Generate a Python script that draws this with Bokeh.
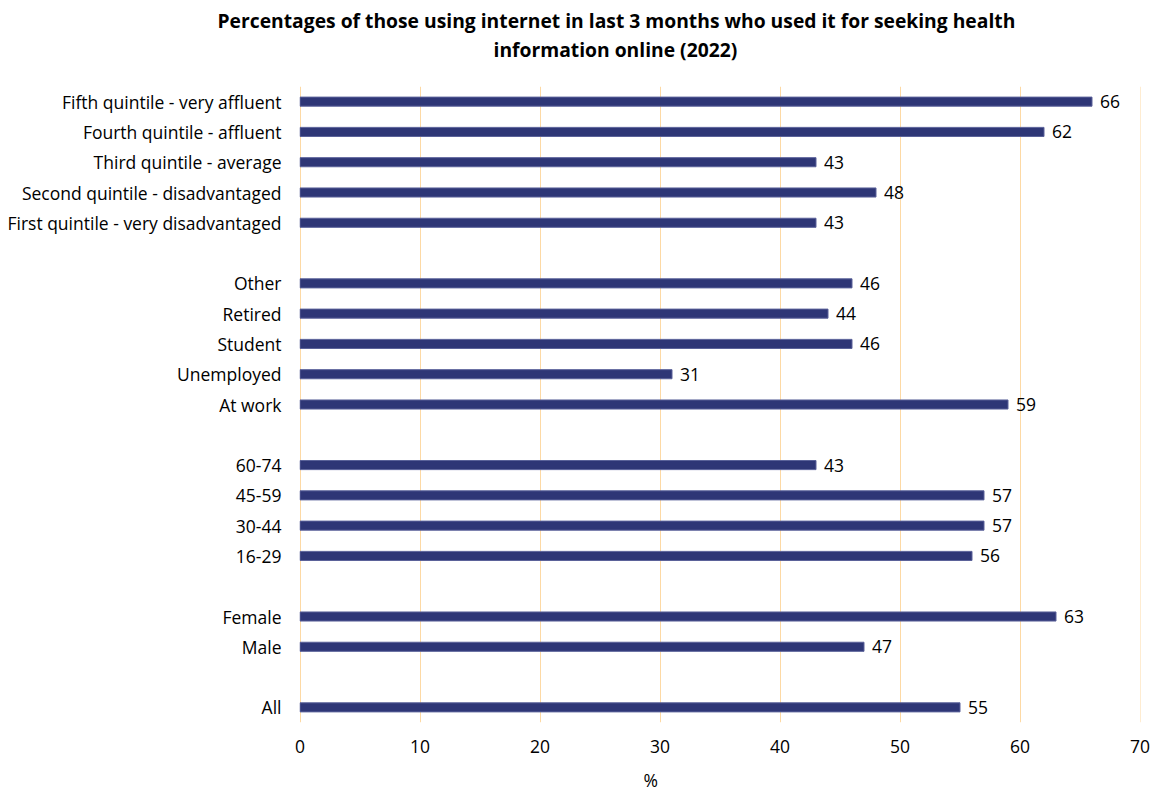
from bokeh.plotting import figure
from bokeh.models import ColumnDataSource, FactorRange, Range1d, Title, FixedTicker
from bokeh.core.properties import value
from bokeh.embed import file_html
from bokeh.resources import INLINE

# Data (top-to-bottom within each group as shown in the chart)
quintile_labels = ["Fifth quintile - very affluent", "Fourth quintile - affluent", "Third quintile - average",
                   "Second quintile - disadvantaged", "First quintile - very disadvantaged"]
quintile_values = [66, 62, 43, 48, 43]
status_labels = ["Other", "Retired", "Student", "Unemployed", "At work"]
status_values = [46, 44, 46, 31, 59]
age_labels = ["60-74", "45-59", "30-44", "16-29"]
age_values = [43, 57, 57, 56]
sex_labels = ["Female", "Male"]
sex_values = [63, 47]
all_labels = ["All"]
all_values = [55]
x_ticks = [0, 10, 20, 30, 40, 50, 60, 70]

groups = [(quintile_labels, quintile_values), (status_labels, status_values),
          (age_labels, age_values), (sex_labels, sex_values), (all_labels, all_values)]

factors_top_down = []
cats, vals = [], []
for gi, (labs, vs) in enumerate(groups):
    if gi > 0:
        factors_top_down.append(" " * gi)
    factors_top_down.extend(labs)
    cats.extend(labs)
    vals.extend(vs)
factors = list(reversed(factors_top_down))

src = ColumnDataSource(dict(cat=cats, val=vals, txt=[str(v) for v in vals]))

FONT = "Open Sans"
FS = "17.5px"
TFS = "19.3px"
# x range padded by half a pixel on each side (12 px per unit) so every grid line is crisp
p = figure(width=1155, height=807, y_range=FactorRange(*factors, range_padding=0),
           x_range=Range1d(-0.5 / 12, 70 + 0.5 / 12), output_backend="svg", toolbar_location=None,
           min_border_left=299, min_border_right=15, min_border_top=86, min_border_bottom=85)
p.outline_line_color = None
p.background_fill_color = "white"
p.border_fill_color = "white"

p.hbar(y="cat", right="val", left=0, height=0.3, source=src,
       fill_color="#2E3676", line_color="#5A6199", line_width=1)
p.text(x="val", y="cat", text="txt", source=src, x_offset=8,
       text_align="left", text_baseline="middle", text_font=value(FONT),
       text_font_size=FS, text_color="#000000")

p.xgrid.grid_line_color = "#FDD9A4"
p.xgrid.grid_line_width = 1
p.ygrid.grid_line_color = None
p.xaxis.ticker = FixedTicker(ticks=x_ticks)
for ax in (p.xaxis[0], p.yaxis[0]):
    ax.axis_line_color = None
    ax.major_tick_line_color = None
    ax.minor_tick_line_color = None
    ax.major_tick_out = 0
    ax.major_tick_in = 0
    ax.major_label_text_font = FONT
    ax.major_label_text_font_size = FS
    ax.major_label_text_color = "#000000"
p.xaxis.major_label_standoff = 17
p.yaxis.major_label_standoff = 18

# Title: a blank spacer line nearest the frame, then the two title lines stacked above it
title_lines = ["Percentages of those using internet in last 3 months who used it for seeking health",
               "information online (2022)"]
title_offsets = [-82, 194]
p.add_layout(Title(text=" ", align="left", text_font=FONT, text_font_size="16.3px", standoff=0), "above")
for t, off in reversed(list(zip(title_lines, title_offsets))):
    p.add_layout(Title(text=t, align="left", offset=off, text_font=FONT, text_font_size=TFS,
                       text_font_style="bold", text_color="#000000", standoff=0), "above")
p.add_layout(Title(text="%", align="left", offset=344, text_font=FONT, text_font_size=FS,
                   text_font_style="normal", text_color="#000000", standoff=20), "below")

open("out.html", "w").write(file_html(p, INLINE))
